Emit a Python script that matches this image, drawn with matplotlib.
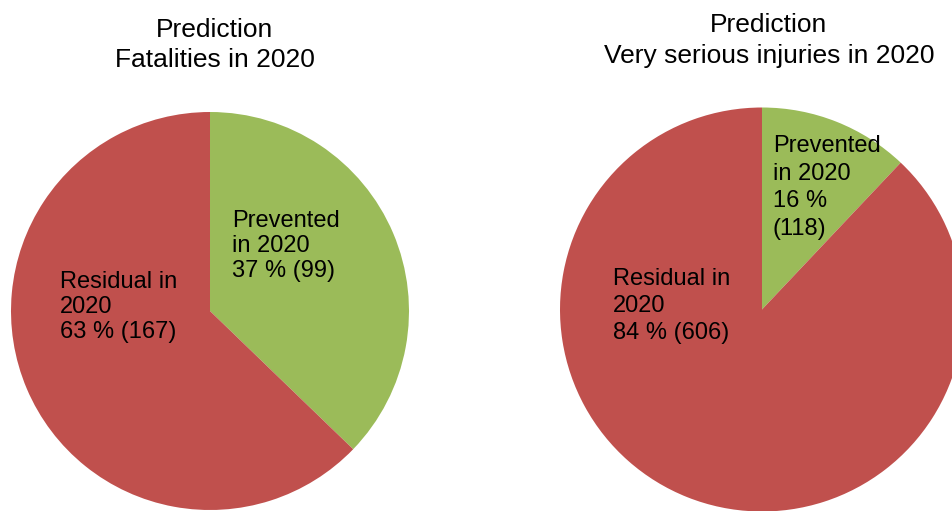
import matplotlib
matplotlib.use("Agg")
import matplotlib.pyplot as plt
from matplotlib.transforms import offset_copy

plt.rcParams['font.family'] = ['Liberation Sans', 'DejaVu Sans']

# Data
categories = ["Prevented in 2020", "Residual in 2020"]
titles = ["Prediction\nFatalities in 2020", "Prediction\nVery serious injuries in 2020"]
fatal_values = [99, 167]
serious_values = [83, 606]          # slice sizes as drawn in the picture
fatal_labels = ["Prevented\nin 2020\n37 % (99)", "Residual in\n2020\n63 % (167)"]
serious_labels = ["Prevented\nin 2020\n16 %\n(118)", "Residual in\n2020\n84 % (606)"]
colors = ["#9BBB59", "#C0504D"]

W, H = 952, 511
fig = plt.figure(figsize=(W / 100, H / 100), dpi=100)


def add_pie(cx, cy, r, values):
    ax = fig.add_axes([(cx - r) / W, (H - cy - r) / H, 2 * r / W, 2 * r / H])
    ax.pie(values, colors=colors, startangle=90, counterclock=False,
           wedgeprops=dict(linewidth=0), radius=1.0)
    ax.set_xlim(-1, 1)
    ax.set_ylim(-1, 1)
    ax.set_aspect('equal')
    ax.axis('off')
    return ax


def put_lines(text, x, y, step, ha='left', size=17):
    for i, line in enumerate(text.split("\n")):
        fig.text(x / W, 1 - (y + i * step) / H, line, ha=ha, va='baseline',
                 fontsize=size, color='black')


add_pie(210, 311, 199, fatal_values)
add_pie(762, 309.5, 202, serious_values)

put_lines(titles[0], 215, 37, 30, ha='center', size=19)
put_lines(titles[1], 769, 32, 31, ha='center', size=19)

put_lines(fatal_labels[0], 232, 227, 25)
put_lines(fatal_labels[1], 60, 288, 25)
put_lines(serious_labels[0], 773, 152, 27.7)
put_lines(serious_labels[1], 613, 285, 27)

fig.savefig("out.png", dpi=100)
